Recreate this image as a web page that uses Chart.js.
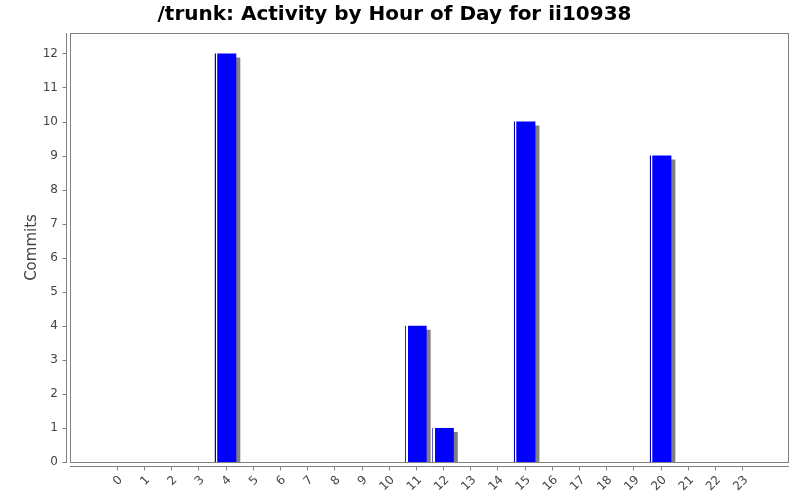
<!DOCTYPE html>
<html>
<head>
<meta charset="utf-8">
<script src="https://cdn.jsdelivr.net/npm/chart.js@4/dist/chart.umd.min.js"></script>
<style>
  html, body { margin: 0; padding: 0; background: #fff; }
  #wrap { width: 800px; height: 500px; }
</style>
</head>
<body>
<div id="wrap"><canvas id="chart"></canvas></div>
<script>
// ── DATA ──────────────────────────────────────────────────────────────────────
const hours   = [0, 1, 2, 3, 4, 5, 6, 7, 8, 9, 10, 11, 12, 13, 14, 15, 16, 17, 18, 19, 20, 21, 22, 23];
const commits = [0, 0, 0, 0, 12, 0, 0, 0, 0, 0, 0, 4, 1, 0, 0, 10, 0, 0, 0, 0, 9, 0, 0, 0];
const yTicks  = [0, 1, 2, 3, 4, 5, 6, 7, 8, 9, 10, 11, 12];

const AXIS_GREY = '#808080';
const LABEL_GREY = '#444444';

// ── PLOT FRAME, OFFSET AXIS LINES AND TICK MARKS ─────────────────────────────
const framePlugin = {
  id: 'frame',
  beforeDatasetsDraw(chart) {
    const { ctx, chartArea: a, scales } = chart;
    ctx.save();
    ctx.strokeStyle = AXIS_GREY;
    ctx.lineWidth = 1;
    ctx.strokeRect(a.left + 0.5, a.top + 0.5, a.right - a.left - 1, a.bottom - a.top);

    // y axis line, 3px left of the plot
    const yx = a.left - 3.5;
    ctx.beginPath();
    ctx.moveTo(yx, a.top);
    ctx.lineTo(yx, a.bottom + 1);
    scales.y.ticks.forEach(t => {
      const py = Math.round(scales.y.getPixelForValue(t.value)) + 0.5;
      ctx.moveTo(yx, py);
      ctx.lineTo(yx - 4, py);
    });
    // x axis line, 3px below the plot
    const xy = a.bottom + 4.5;
    ctx.moveTo(a.left, xy);
    ctx.lineTo(a.right, xy);
    scales.x.ticks.forEach(t => {
      const px = Math.round(scales.x.getPixelForValue(t.value)) + 0.5;
      ctx.moveTo(px, xy);
      ctx.lineTo(px, xy + 4);
    });
    ctx.stroke();
    ctx.restore();
  }
};

// ── BAR LOOK: white stripe on the left, grey drop shadow ─────────────────────
const barLookPlugin = {
  id: 'barLook',
  beforeDatasetDraw(chart, args) {
    const { ctx } = chart;
    args.meta.data.forEach(bar => {
      const w = bar.width;
      if (!w) return;
      const left = bar.x - w / 2;
      const g = ctx.createLinearGradient(left, 0, left + w, 0);
      const px = 1 / w;
      g.addColorStop(0, '#0000b0');
      g.addColorStop(px, '#0000b0');
      g.addColorStop(px * 1.01, '#ffffff');
      g.addColorStop(px * 2.5, '#ffffff');
      g.addColorStop(px * 2.51, '#5050ff');
      g.addColorStop(px * 3.2, '#0000ff');
      g.addColorStop(1, '#0000ff');
      bar.options.backgroundColor = g;
    });
    ctx.save();
    ctx.shadowColor = AXIS_GREY;
    ctx.shadowOffsetX = 4;
    ctx.shadowOffsetY = 4;
    ctx.shadowBlur = 0;
  },
  afterDatasetDraw(chart) {
    chart.ctx.restore();
  }
};

// ── CHART ─────────────────────────────────────────────────────────────────────
const ctx = document.getElementById('chart').getContext('2d');
new Chart(ctx, {
  type: 'bar',
  data: {
    datasets: [{
      label: 'Commits',
      data: hours.map((h, i) => ({ x: h, y: commits[i] })),
      // scriptable so every bar gets its own options object
      backgroundColor: () => '#0000ff',
      borderWidth: 0,
      categoryPercentage: 0.79,
      barPercentage: 1
    }]
  },
  options: {
    responsive: true,
    maintainAspectRatio: false,
    animation: false,
    layout: { padding: { left: 0, right: 11, top: 0, bottom: 0 } },
    plugins: {
      legend: { display: false },
      tooltip: { enabled: false },
      title: {
        display: true,
        text: '/trunk: Activity by Hour of Day for ii10938',
        color: '#000',
        font: { family: 'DejaVu Sans', size: 20, weight: 'bold', lineHeight: 1.2 },
        padding: { top: 3, bottom: 6 }
      }
    },
    scales: {
      x: {
        type: 'linear',
        offset: false,
        min: -1.72,
        max: 24.72,
        grid: { display: false, drawTicks: false },
        border: { display: false },
        afterBuildTicks: s => { s.ticks = hours.map(v => ({ value: v })); },
        afterFit: s => { s.height = 38; },
        ticks: {
          autoSkip: false,
          minRotation: 45,
          maxRotation: 45,
          padding: 11,
          labelOffset: 4,
          color: LABEL_GREY,
          font: { family: 'DejaVu Sans', size: 12 },
          callback: v => String(v)
        }
      },
      y: {
        min: 0,
        max: 12.6,
        grid: { display: false, drawTicks: false },
        border: { display: false },
        afterBuildTicks: s => { s.ticks = yTicks.map(v => ({ value: v })); },
        afterFit: s => { s.width = 70; },
        ticks: {
          padding: 12,
          color: LABEL_GREY,
          font: { family: 'DejaVu Sans', size: 12 }
        },
        title: {
          display: true,
          text: 'Commits',
          color: LABEL_GREY,
          font: { family: 'DejaVu Sans', size: 15, lineHeight: 1.2 },
          padding: { top: 23 }
        }
      }
    }
  },
  plugins: [framePlugin, barLookPlugin]
});
</script>
</body>
</html>
